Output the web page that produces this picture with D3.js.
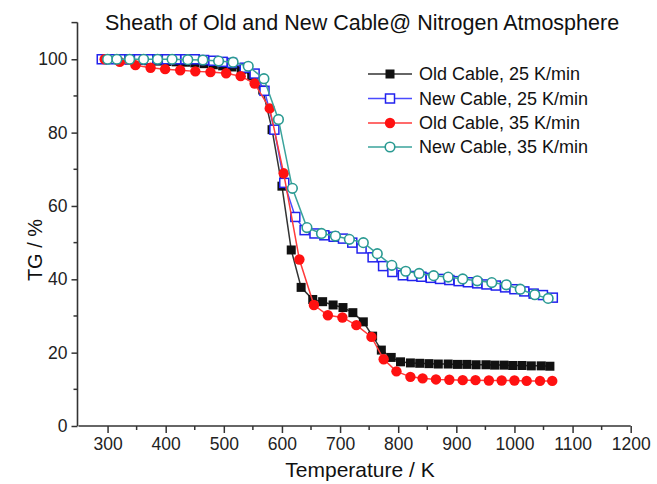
<!DOCTYPE html>
<html><head><meta charset="utf-8">
<script src="https://cdn.jsdelivr.net/npm/d3@7/dist/d3.min.js"></script>
<style>body{margin:0;background:#fff}svg{display:block;font-family:"Liberation Sans",Arial,sans-serif}</style>
</head><body><svg id="c" width="657" height="484"></svg>
<script>
const title = "Sheath of Old and New Cable@ Nitrogen Atmosphere";
const xLabel = "Temperature / K";
const yLabel = "TG / %";
const xTicks = [300,400,500,600,700,800,900,1000,1100,1200];
const yTicks = [0,20,40,60,80,100];
const seriesNames = ["Old Cable, 25 K/min","New Cable, 25 K/min","Old Cable, 35 K/min","New Cable, 35 K/min"];

const oldT25 = [290,306,322,338,354,370,386,402,418,434,450,466,482,498,514,530,548,567,583,600,616,633,653,670,688,705,722,740,756,771,788,804,821,837,853,869,886,902,918,934,951,966,982,997,1013,1029,1046,1061];
const oldV25 = [100,100,100,99.8,99.7,99.6,99.5,99.4,99.3,99.2,99.0,98.8,98.5,98.2,97.9,97.2,95.5,91.6,80.8,65.4,48.0,37.8,34.5,33.9,33.0,32.3,30.9,28.4,24.5,20.7,18.7,17.5,17.2,17.1,17.0,16.9,16.9,16.8,16.8,16.7,16.7,16.6,16.6,16.5,16.5,16.4,16.4,16.3];

const newT25 = [290,306,322,338,354,370,386,402,418,434,450,466,482,498,514,536,553,570,587,604,623,639,656,673,689,705,721,737,756,774,790,808,824,840,856,872,888,904,920,936,952,968,984,1000,1017,1033,1049,1066];
const newV25 = [100,100,100,100,100,100,100,100,100,100,100,99.8,99.6,99.3,99.0,97.7,96.1,91.4,80.8,66.3,57.0,53.4,52.5,52.0,51.6,51.1,50.0,48.4,46.0,43.6,42.0,41.1,40.9,40.7,40.4,40.1,39.8,39.5,39.2,38.9,38.6,38.3,37.8,37.3,36.7,36.1,35.7,35.0];

const oldT35 = [295,321,348,374,399,425,451,477,504,529,553,579,603,630,655,679,704,728,754,775,797,821,842,865,888,911,933,956,978,1000,1021,1044,1065];
const oldV35 = [100,99.3,98.4,97.7,97.3,97.0,96.7,96.5,96.2,95.4,93.4,86.6,68.9,45.4,33.0,30.2,29.6,27.5,24.3,18.2,14.9,13.4,13.0,12.7,12.6,12.5,12.5,12.4,12.4,12.4,12.3,12.3,12.3];

const newT35 = [300,316,338,362,386,411,438,464,491,516,542,569,594,618,643,668,692,716,740,764,789,813,836,861,886,911,936,961,986,1010,1035,1058];
const newV35 = [100,100,100,100,100,100,99.9,99.8,99.5,99.2,98.1,94.7,83.6,64.8,54.1,52.5,51.8,50.9,50.0,47.0,43.8,42.2,41.6,41.0,40.6,40.1,39.6,39.1,38.5,37.3,35.8,34.8];

const colors = ["#111111","#2222ee","#ff1111","#2a9a92"];
const lineColors = ["#333333","#4a4aff","#ff3a3a","#3aa39b"];
const markers = ["sqFill","sqOpen","cirFill","cirOpen"];

const series = [
  {T: oldT25, V: oldV25},
  {T: newT25, V: newV25},
  {T: oldT35, V: oldV35},
  {T: newT35, V: newV35}
].map((s,i)=>({name: seriesNames[i], color: colors[i], lc: lineColors[i], marker: markers[i], pts: s.T.map((t,j)=>({t, v: s.V[j]}))}));

const svg = d3.select("#c");
const x = d3.scaleLinear().domain([250,1200]).range([78.5,630.7]);
const y = d3.scaleLinear().domain([0,110]).range([426,22.6]);

// axes
const axisColor = "#333";
const xAxis = d3.axisBottom(x).tickValues(xTicks).tickSize(7).tickSizeOuter(0).tickFormat(d3.format("d"));
const gx = svg.append("g").attr("transform",`translate(0,${y(0)})`).call(xAxis);
const xMinor = d3.range(350,1200,100);
gx.selectAll(".minor").data(xMinor).enter().append("line").attr("class","minor")
  .attr("x1",d=>x(d)).attr("x2",d=>x(d)).attr("y1",0).attr("y2",4).attr("stroke",axisColor).attr("stroke-width",1.5);
gx.select(".domain").attr("d",`M${x(250)},0H${x(1200)}`);

const yAxis = d3.axisLeft(y).tickValues(yTicks).tickSize(6).tickSizeOuter(0).tickFormat(d3.format("d"));
const gy = svg.append("g").attr("transform",`translate(${x(250)-1},0)`).call(yAxis);
gy.selectAll(".minor").data([10,30,50,70,90,110]).enter().append("line").attr("class","minor")
  .attr("x1",0).attr("x2",d=>d===110?-6:-4).attr("y1",d=>y(d)).attr("y2",d=>y(d)).attr("stroke",axisColor).attr("stroke-width",1.5);
gy.select(".domain").attr("d",`M0,${y(0)}V${y(110)}`);

[gx,gy].forEach(g=>{
  g.selectAll(".domain").attr("stroke",axisColor).attr("stroke-width",1.6);
  g.selectAll(".tick line").attr("stroke",axisColor).attr("stroke-width",1.5);
  g.selectAll(".tick text").attr("fill","#222").style("font-size","17.5px").style("font-family","'Liberation Sans',Arial,sans-serif");
});
gx.selectAll(".tick text").attr("dy","0.71em").attr("y",12);
gy.selectAll(".tick text").attr("x",-10);

// titles
svg.append("text").attr("x",362).attr("y",30).attr("text-anchor","middle").style("font-size","21.5px").attr("fill","#111").text(title);
svg.append("text").attr("x",360).attr("y",477).attr("text-anchor","middle").style("font-size","21px").attr("fill","#111").text(xLabel);
svg.append("text").attr("transform","translate(42,250) rotate(-90)").attr("text-anchor","middle").style("font-size","20px").attr("fill","#111").text(yLabel);

// lines & markers
const line = d3.line().x(d=>x(d.t)).y(d=>y(d.v));
function drawMarker(g, type, color, cx, cy){
  if(type==="sqFill") g.append("rect").attr("x",cx-4.5).attr("y",cy-4.5).attr("width",9).attr("height",9).attr("fill",color);
  else if(type==="sqOpen") g.append("rect").attr("x",cx-4.5).attr("y",cy-4.5).attr("width",9).attr("height",9).attr("fill","#fff").attr("stroke",color).attr("stroke-width",1.5);
  else if(type==="cirFill") g.append("circle").attr("cx",cx).attr("cy",cy).attr("r",5.2).attr("fill",color);
  else g.append("circle").attr("cx",cx).attr("cy",cy).attr("r",4.8).attr("fill","#fff").attr("stroke",color).attr("stroke-width",1.6);
}
series.forEach(s=>{
  const g = svg.append("g");
  g.append("path").datum(s.pts).attr("d",line).attr("fill","none").attr("stroke",s.lc).attr("stroke-width",1.5);
  s.pts.forEach(p=>drawMarker(g,s.marker,s.color,x(p.t),y(p.v)));
});

// legend
const legY = [74,98.5,123,147];
series.forEach((s,i)=>{
  const g = svg.append("g");
  g.append("line").attr("x1",368).attr("x2",412).attr("y1",legY[i]).attr("y2",legY[i]).attr("stroke",s.lc).attr("stroke-width",1.5);
  drawMarker(g,s.marker,s.color,390,legY[i]);
  g.append("text").attr("x",419).attr("y",legY[i]).attr("dy","0.35em").style("font-size","18px").attr("fill","#111").text(s.name);
});
</script></body></html>
